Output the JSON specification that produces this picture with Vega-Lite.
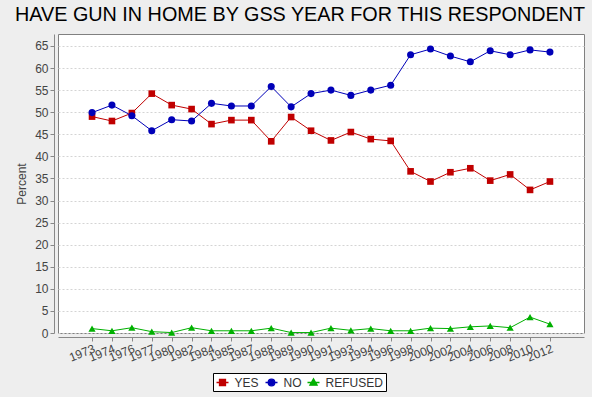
{
  "$schema": "https://vega.github.io/schema/vega-lite/v6.json",
  "width": 526,
  "height": 299,
  "autosize": {"type": "none"},
  "padding": {"left": 58, "top": 34, "right": 8, "bottom": 64},
  "background": "#EEEEEE",
  "title": {
    "text": "HAVE GUN IN HOME BY GSS YEAR FOR THIS RESPONDENT",
    "font": "Liberation Sans",
    "fontSize": 19.8,
    "fontWeight": "normal",
    "color": "#000000",
    "anchor": "start",
    "frame": "group",
    "dx": -43,
    "offset": 9
  },
  "config": {
    "view": {"stroke": "#808080", "fill": "#FFFFFF", "strokeWidth": 1},
    "axis": {
      "labelFont": "Liberation Sans",
      "labelFontSize": 12,
      "labelColor": "#444444",
      "titleFont": "Liberation Sans",
      "titleFontSize": 12,
      "titleFontWeight": "normal",
      "titleColor": "#444444",
      "domainColor": "#888888",
      "tickColor": "#888888",
      "tickSize": 4
    },
    "legend": {
      "labelFont": "Liberation Sans",
      "labelFontSize": 12,
      "labelColor": "#333333"
    }
  },
  "data": {
    "values": [
      {"year": "1973", "series": "YES", "pct": 49.0},
      {"year": "1974", "series": "YES", "pct": 48.0},
      {"year": "1976", "series": "YES", "pct": 49.8},
      {"year": "1977", "series": "YES", "pct": 54.2},
      {"year": "1980", "series": "YES", "pct": 51.6},
      {"year": "1982", "series": "YES", "pct": 50.7},
      {"year": "1984", "series": "YES", "pct": 47.3},
      {"year": "1985", "series": "YES", "pct": 48.2},
      {"year": "1987", "series": "YES", "pct": 48.2},
      {"year": "1988", "series": "YES", "pct": 43.4},
      {"year": "1989", "series": "YES", "pct": 48.9},
      {"year": "1990", "series": "YES", "pct": 45.8},
      {"year": "1991", "series": "YES", "pct": 43.6},
      {"year": "1993", "series": "YES", "pct": 45.5},
      {"year": "1994", "series": "YES", "pct": 43.9},
      {"year": "1996", "series": "YES", "pct": 43.5},
      {"year": "1998", "series": "YES", "pct": 36.6},
      {"year": "2000", "series": "YES", "pct": 34.3},
      {"year": "2002", "series": "YES", "pct": 36.4},
      {"year": "2004", "series": "YES", "pct": 37.3},
      {"year": "2006", "series": "YES", "pct": 34.5},
      {"year": "2008", "series": "YES", "pct": 35.9},
      {"year": "2010", "series": "YES", "pct": 32.4},
      {"year": "2012", "series": "YES", "pct": 34.3},
      {"year": "1973", "series": "NO", "pct": 49.9},
      {"year": "1974", "series": "NO", "pct": 51.6},
      {"year": "1976", "series": "NO", "pct": 49.2},
      {"year": "1977", "series": "NO", "pct": 45.8},
      {"year": "1980", "series": "NO", "pct": 48.3},
      {"year": "1982", "series": "NO", "pct": 48.0},
      {"year": "1984", "series": "NO", "pct": 52.0},
      {"year": "1985", "series": "NO", "pct": 51.4},
      {"year": "1987", "series": "NO", "pct": 51.4},
      {"year": "1988", "series": "NO", "pct": 55.8},
      {"year": "1989", "series": "NO", "pct": 51.2},
      {"year": "1990", "series": "NO", "pct": 54.2},
      {"year": "1991", "series": "NO", "pct": 55.0},
      {"year": "1993", "series": "NO", "pct": 53.8},
      {"year": "1994", "series": "NO", "pct": 55.0},
      {"year": "1996", "series": "NO", "pct": 56.1},
      {"year": "1998", "series": "NO", "pct": 63.0},
      {"year": "2000", "series": "NO", "pct": 64.3},
      {"year": "2002", "series": "NO", "pct": 62.7},
      {"year": "2004", "series": "NO", "pct": 61.4},
      {"year": "2006", "series": "NO", "pct": 63.9},
      {"year": "2008", "series": "NO", "pct": 63.0},
      {"year": "2010", "series": "NO", "pct": 64.1},
      {"year": "2012", "series": "NO", "pct": 63.6},
      {"year": "1973", "series": "REFUSED", "pct": 1.0},
      {"year": "1974", "series": "REFUSED", "pct": 0.5},
      {"year": "1976", "series": "REFUSED", "pct": 1.2},
      {"year": "1977", "series": "REFUSED", "pct": 0.3},
      {"year": "1980", "series": "REFUSED", "pct": 0.1},
      {"year": "1982", "series": "REFUSED", "pct": 1.2},
      {"year": "1984", "series": "REFUSED", "pct": 0.5},
      {"year": "1985", "series": "REFUSED", "pct": 0.5},
      {"year": "1987", "series": "REFUSED", "pct": 0.5},
      {"year": "1988", "series": "REFUSED", "pct": 1.1},
      {"year": "1989", "series": "REFUSED", "pct": 0.1},
      {"year": "1990", "series": "REFUSED", "pct": 0.1},
      {"year": "1991", "series": "REFUSED", "pct": 1.1},
      {"year": "1993", "series": "REFUSED", "pct": 0.6},
      {"year": "1994", "series": "REFUSED", "pct": 1.0},
      {"year": "1996", "series": "REFUSED", "pct": 0.5},
      {"year": "1998", "series": "REFUSED", "pct": 0.5},
      {"year": "2000", "series": "REFUSED", "pct": 1.1},
      {"year": "2002", "series": "REFUSED", "pct": 1.0},
      {"year": "2004", "series": "REFUSED", "pct": 1.4},
      {"year": "2006", "series": "REFUSED", "pct": 1.6},
      {"year": "2008", "series": "REFUSED", "pct": 1.2},
      {"year": "2010", "series": "REFUSED", "pct": 3.6},
      {"year": "2012", "series": "REFUSED", "pct": 2.0}
    ]
  },
  "encoding": {
    "x": {
      "field": "year",
      "type": "ordinal",
      "sort": null,
      "scale": {
        "type": "point",
        "padding": 0.71,
        "domain": ["", "1973", "1974", "1976", "1977", "1980", "1982", "1984", "1985", "1987", "1988", "1989", "1990", "1991", "1993", "1994", "1996", "1998", "2000", "2002", "2004", "2006", "2008", "2010", "2012", " "]
      },
      "axis": {
        "title": null,
        "offset": 4,
        "labelAngle": -22,
        "labelPadding": 2,
        "grid": false,
        "values": ["1973", "1974", "1976", "1977", "1980", "1982", "1984", "1985", "1987", "1988", "1989", "1990", "1991", "1993", "1994", "1996", "1998", "2000", "2002", "2004", "2006", "2008", "2010", "2012"]
      }
    },
    "y": {
      "field": "pct",
      "type": "quantitative",
      "scale": {"domain": [0, 67.7], "nice": false, "zero": true},
      "axis": {
        "title": "Percent",
        "offset": 4,
        "labelPadding": 2,
        "titlePadding": 6,
        "values": [0, 5, 10, 15, 20, 25, 30, 35, 40, 45, 50, 55, 60, 65],
        "grid": true,
        "gridDash": [2, 2],
        "gridColor": "#D4D4D4",
        "gridWidth": 1
      }
    },
    "color": {
      "field": "series",
      "type": "nominal",
      "scale": {"domain": ["NO", "YES", "REFUSED"], "range": ["#0000B8", "#C00000", "#00B000"]},
      "legend": null
    }
  },
  "layer": [
    {
      "mark": {"type": "line", "strokeWidth": 1}
    },
    {
      "transform": [{"filter": "datum.series === 'YES'"}],
      "mark": {"type": "point", "shape": "square", "filled": true, "size": 44, "opacity": 1, "strokeWidth": 0}
    },
    {
      "transform": [{"filter": "datum.series === 'NO'"}],
      "mark": {"type": "point", "shape": "circle", "filled": true, "size": 50, "opacity": 1, "strokeWidth": 0}
    },
    {
      "transform": [{"filter": "datum.series === 'REFUSED'"}],
      "mark": {"type": "point", "shape": "triangle-up", "filled": true, "size": 52, "opacity": 1, "strokeWidth": 0}
    },
    {
      "transform": [{"filter": "datum.pct < -100"}],
      "mark": {"type": "point", "filled": true, "opacity": 1},
      "encoding": {
        "shape": {
          "field": "series",
          "type": "nominal",
          "scale": {
            "domain": ["YES", "NO", "REFUSED"],
            "range": [
              "M-1,0H1M-0.5,-0.5H0.5V0.5H-0.5Z",
              "M-1,0H1M0.55,0A0.55,0.55,0,1,1,-0.55,0A0.55,0.55,0,1,1,0.55,0Z",
              "M-1,0H1M0,-0.6L0.6,0.45H-0.6Z"
            ]
          },
          "legend": {
            "title": null,
            "orient": "none",
            "direction": "horizontal",
            "legendX": 155,
            "legendY": 339,
            "padding": 2.5,
            "strokeColor": "#000000",
            "fillColor": "#FFFFFF",
            "symbolSize": 144,
            "symbolStrokeWidth": 1.3,
            "symbolOpacity": 1,
            "symbolFillColor": {"expr": "datum.value === 'YES' ? '#C00000' : datum.value === 'NO' ? '#0000B8' : '#00B000'"},
            "symbolStrokeColor": {"expr": "datum.value === 'YES' ? '#C00000' : datum.value === 'NO' ? '#0000B8' : '#00B000'"},
            "labelOffset": 5,
            "columnPadding": 3
          }
        }
      }
    }
  ]
}
